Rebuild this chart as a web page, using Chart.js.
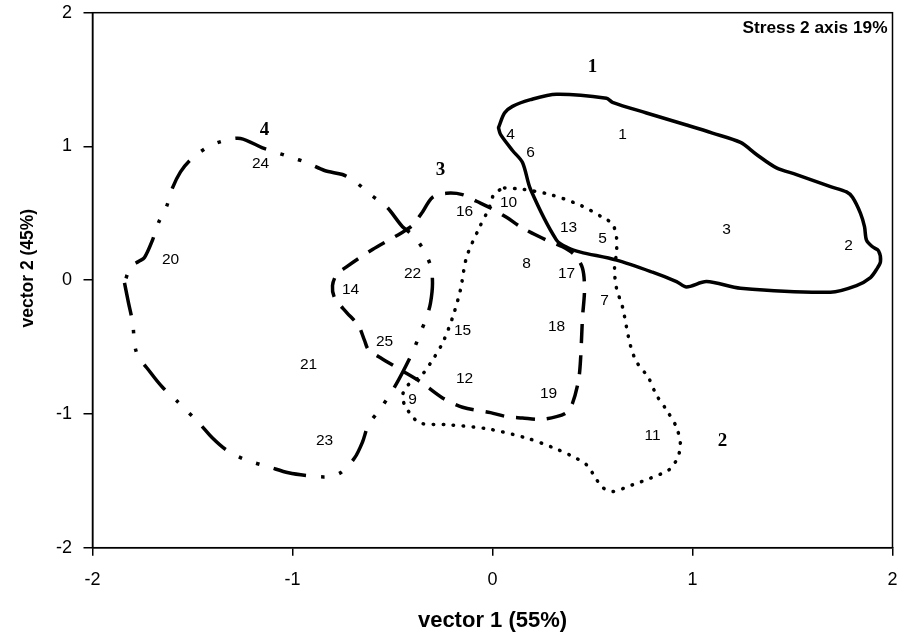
<!DOCTYPE html>
<html>
<head>
<meta charset="utf-8">
<script src="https://cdn.jsdelivr.net/npm/chart.js@4.4.0/dist/chart.umd.min.js"></script>
<style>
  html, body { margin: 0; padding: 0; background: #fff; }
  #wrap { width: 901px; height: 636px; }
</style>
</head>
<body>
<div id="wrap"><canvas id="mds" width="901" height="636"></canvas></div>
<script>
// ---- data ----
const axisTicks = [-2, -1, 0, 1, 2];

// numbered samples
const pointIds = ['1','2','3','4','5','6','7','8','9','10','11','12','13','14','15','16','17','18','19','20','21','22','23','24','25'];
const pointX = [0.65, 1.78, 1.17, 0.09, 0.55, 0.19, 0.56, 0.17, -0.40, 0.08, 0.80, -0.14, 0.38, -0.71, -0.15, -0.14, 0.37, 0.32, 0.28, -1.61, -0.92, -0.40, -0.84, -1.16, -0.54];
const pointY = [1.09, 0.26, 0.38, 1.09, 0.31, 0.95, -0.15, 0.12, -0.89, 0.58, -1.16, -0.74, 0.39, -0.07, -0.38, 0.51, 0.05, -0.35, -0.85, 0.15, -0.63, 0.05, -1.20, 0.87, -0.46];

// group names and where they are written
const groupIds = ['1', '2', '3', '4'];
const groupX = [0.50, 1.15, -0.26, -1.14];
const groupY = [1.59, -1.20, 0.82, 1.12];

// group outlines (closed, first point repeated at the end)
const hull1X = [0.03, 0.06, 0.10, 0.19, 0.32, 0.57, 0.60, 0.77, 0.97, 1.10, 1.24, 1.32, 1.42, 1.52, 1.69, 1.77, 1.80, 1.84, 1.86, 1.87, 1.90, 1.93, 1.94, 1.92, 1.89, 1.82, 1.69, 1.24, 1.07, 0.97, 0.92, 0.80, 0.62, 0.44, 0.38, 0.32, 0.19, 0.15, 0.10, 0.04, 0.03];
const hull1Y = [1.14, 1.25, 1.30, 1.35, 1.39, 1.36, 1.33, 1.25, 1.16, 1.10, 1.03, 0.94, 0.84, 0.79, 0.70, 0.66, 0.62, 0.50, 0.40, 0.30, 0.25, 0.22, 0.14, 0.08, 0.02, -0.04, -0.09, -0.06, -0.01, -0.05, -0.01, 0.06, 0.15, 0.21, 0.24, 0.30, 0.68, 0.88, 0.97, 1.09, 1.14];

const hull2X = [0.06, 0.15, 0.29, 0.44, 0.55, 0.60, 0.62, 0.62, 0.61, 0.62, 0.65, 0.67, 0.69, 0.72, 0.78, 0.82, 0.87, 0.92, 0.94, 0.93, 0.91, 0.88, 0.79, 0.70, 0.60, 0.55, 0.52, 0.47, 0.39, 0.30, 0.17, -0.03, -0.23, -0.36, -0.40, -0.44, -0.45, -0.42, -0.36, -0.31, -0.25, -0.20, -0.16, -0.13, -0.07, -0.02, 0.01, 0.06];
const hull2Y = [0.69, 0.68, 0.64, 0.56, 0.47, 0.42, 0.32, 0.21, 0.08, -0.06, -0.20, -0.35, -0.49, -0.61, -0.73, -0.86, -0.97, -1.10, -1.23, -1.31, -1.37, -1.42, -1.48, -1.53, -1.58, -1.55, -1.49, -1.38, -1.31, -1.25, -1.18, -1.11, -1.08, -1.07, -1.02, -0.93, -0.86, -0.78, -0.72, -0.62, -0.47, -0.28, -0.07, 0.17, 0.38, 0.53, 0.65, 0.69];

const hull3X = [-0.35, -0.30, -0.23, -0.15, -0.08, -0.01, 0.07, 0.15, 0.27, 0.35, 0.41, 0.45, 0.46, 0.45, 0.44, 0.43, 0.40, 0.37, 0.32, 0.24, 0.15, 0.07, -0.01, -0.15, -0.25, -0.36, -0.46, -0.56, -0.62, -0.64, -0.67, -0.73, -0.79, -0.80, -0.78, -0.73, -0.60, -0.46, -0.40, -0.35];
const hull3Y = [0.51, 0.62, 0.65, 0.64, 0.59, 0.54, 0.47, 0.39, 0.30, 0.25, 0.19, 0.09, -0.07, -0.28, -0.60, -0.75, -0.92, -0.99, -1.02, -1.04, -1.03, -1.02, -0.99, -0.95, -0.88, -0.76, -0.67, -0.58, -0.52, -0.45, -0.34, -0.24, -0.13, -0.04, 0.04, 0.10, 0.23, 0.35, 0.41, 0.51];

const hull4X = [-1.84, -1.82, -1.80, -1.78, -1.71, -1.65, -1.58, -1.46, -1.40, -1.33, -1.24, -1.11, -1.02, -0.93, -0.83, -0.76, -0.69, -0.65, -0.62, -0.56, -0.49, -0.40, -0.36, -0.33, -0.31, -0.30, -0.31, -0.35, -0.40, -0.45, -0.53, -0.61, -0.68, -0.71, -0.75, -0.84, -0.93, -1.01, -1.11, -1.15, -1.26, -1.35, -1.43, -1.51, -1.56, -1.60, -1.63, -1.67, -1.70, -1.74, -1.77, -1.81, -1.84];
const hull4Y = [-0.02, -0.17, -0.31, -0.54, -0.69, -0.80, -0.90, -1.08, -1.18, -1.27, -1.34, -1.40, -1.44, -1.46, -1.47, -1.44, -1.33, -1.21, -1.08, -0.96, -0.80, -0.54, -0.39, -0.28, -0.17, -0.02, 0.11, 0.24, 0.34, 0.40, 0.55, 0.64, 0.73, 0.76, 0.79, 0.82, 0.88, 0.92, 0.97, 0.99, 1.06, 1.04, 0.99, 0.90, 0.81, 0.69, 0.55, 0.43, 0.30, 0.17, 0.14, 0.10, -0.02];

const stressNote = 'Stress 2 axis 19%';
const xTitle = 'vector 1 (55%)';
const yTitle = 'vector 2 (45%)';

// ---- helpers ----
function zipXY(xs, ys) {
    return xs.map((v, i) => ({ x: v, y: ys[i] }));
}

function outline(xs, ys, dash, cap) {
    return {
        data: zipXY(xs, ys),
        showLine: true,
        pointRadius: 0,
        borderColor: '#000',
        borderWidth: 3.5,
        borderDash: dash,
        borderCapStyle: cap,
        borderJoinStyle: 'round',
        tension: 0.3,
        fill: false
    };
}

const SANS = "'Liberation Sans', Arial, sans-serif";
const SERIF = "'Liberation Serif', 'Times New Roman', serif";

// box round the plot, sample numbers, group numbers, stress note, y title
const labelPlugin = {
    id: 'mdsLabels',
    afterDatasetsDraw(chart) {
        const { ctx, chartArea, scales } = chart;
        const xs = scales.x, ys = scales.y;
        ctx.save();
        ctx.strokeStyle = '#000';
        ctx.lineWidth = 1.5;
        ctx.strokeRect(chartArea.left, chartArea.top, chartArea.width, chartArea.height);

        ctx.fillStyle = '#000';
        ctx.textAlign = 'center';
        ctx.textBaseline = 'middle';
        ctx.font = '15.5px ' + SANS;
        pointIds.forEach((id, i) => {
            ctx.fillText(id, xs.getPixelForValue(pointX[i]), ys.getPixelForValue(pointY[i]));
        });

        ctx.font = 'bold 19px ' + SERIF;
        groupIds.forEach((id, i) => {
            ctx.fillText(id, xs.getPixelForValue(groupX[i]), ys.getPixelForValue(groupY[i]));
        });

        ctx.font = 'bold 17.3px ' + SANS;
        ctx.textAlign = 'right';
        ctx.fillText(stressNote, chartArea.right - 5, chartArea.top + 16);

        // y title sits a little above the middle of the axis in the original
        ctx.font = 'bold 17.5px ' + SANS;
        ctx.textAlign = 'center';
        ctx.translate(28, ys.getPixelForValue(0.09));
        ctx.rotate(-Math.PI / 2);
        ctx.fillText(yTitle, 0, 0);
        ctx.restore();
    }
};

function axisOpts(tickLen, padTick, fitSize, horizontal) {
    return {
        type: 'linear',
        min: -2,
        max: 2,
        afterBuildTicks: (s) => { s.ticks = axisTicks.map(v => ({ value: v })); },
        afterFit: (s) => {
            if (horizontal) {
                s.height = fitSize;
                s.paddingLeft = 0;
                s.paddingRight = 0;
            } else {
                s.width = fitSize;
                s.paddingTop = 0;
                s.paddingBottom = 0;
            }
        },
        ticks: {
            color: '#000',
            padding: padTick,
            font: { family: SANS, size: 18 },
            callback: (v) => String(v)
        },
        grid: {
            display: true,
            drawOnChartArea: false,
            drawTicks: true,
            tickLength: tickLen,
            color: '#000',
            lineWidth: 1.5
        },
        border: { display: true, color: '#000', width: 1.5 }
    };
}

const xAxis = axisOpts(8, 14, 88.3, true);
xAxis.title = {
    display: true,
    text: xTitle,
    color: '#000',
    font: { family: SANS, size: 22, weight: 'bold' },
    padding: { top: 0, bottom: 2 }
};
const yAxis = axisOpts(9, 11.5, 92.5, false);

const ctx = document.getElementById('mds').getContext('2d');
new Chart(ctx, {
    type: 'scatter',
    data: {
        datasets: [
            outline(hull1X, hull1Y, [], 'round'),
            outline(hull2X, hull2Y, [0.5, 9.5], 'round'),
            outline(hull3X, hull3Y, [19, 12], 'butt'),
            outline(hull4X, hull4Y, [33, 15, 3.5, 15, 3.5, 15], 'butt'),
            {
                data: zipXY(pointX, pointY),
                pointRadius: 0,
                showLine: false
            }
        ]
    },
    options: {
        responsive: false,
        animation: false,
        devicePixelRatio: 1,
        layout: { padding: { left: 0, right: 8.5, top: 12.7, bottom: 0 } },
        plugins: {
            legend: { display: false },
            tooltip: { enabled: false }
        },
        scales: { x: xAxis, y: yAxis }
    },
    plugins: [labelPlugin]
});
</script>
</body>
</html>
